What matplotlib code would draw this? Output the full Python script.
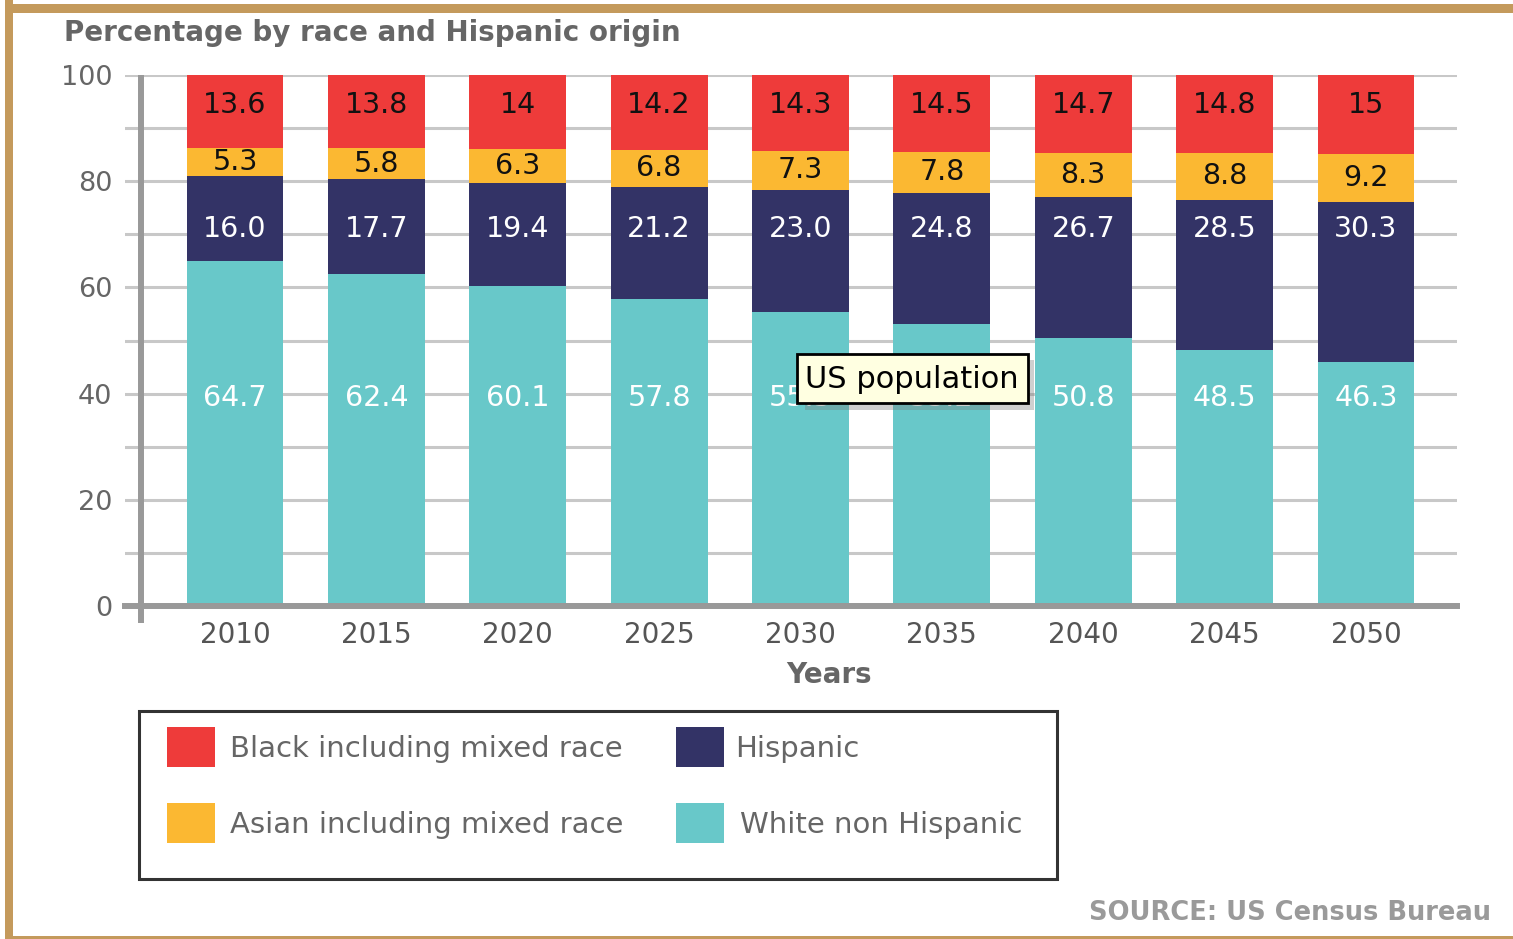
import numpy as np
import matplotlib
matplotlib.use('Agg')
import matplotlib.pyplot as plt
from matplotlib.patches import Rectangle
import matplotlib.transforms as mtransforms

# Данные: доля населения США по расе и происхождению (прогноз)
years = ['2010', '2015', '2020', '2025', '2030', '2035', '2040', '2045', '2050']
white = [64.7, 62.4, 60.1, 57.8, 55.5, 53.2, 50.8, 48.5, 46.3]
hispanic = [16.0, 17.7, 19.4, 21.2, 23.0, 24.8, 26.7, 28.5, 30.3]
asian = [5.3, 5.8, 6.3, 6.8, 7.3, 7.8, 8.3, 8.8, 9.2]
black = [13.6, 13.8, 14, 14.2, 14.3, 14.5, 14.7, 14.8, 15]
black_labels = ['13.6', '13.8', '14', '14.2', '14.3', '14.5', '14.7', '14.8', '15']

series_names = ['White non Hispanic', 'Hispanic',
                'Asian including mixed race', 'Black including mixed race']
colors = {'white': '#68C8C9', 'hispanic': '#333366',
          'asian': '#FBB832', 'black': '#EE3B3A'}

W, H = 1513, 939


def fx(px):
    return px / W


def fy(py):
    return 1 - py / H


fig = plt.figure(figsize=(W / 100, H / 100), dpi=100)
fig.patch.set_facecolor('white')

ax = fig.add_axes([fx(125), fy(606), fx(1457) - fx(125), fy(75) - fy(606)])

# столбцы нормируются к 100 %
white_a = np.array(white)
hisp_a = np.array(hispanic)
asian_a = np.array(asian)
black_a = np.array(black)
total = white_a + hisp_a + asian_a + black_a
w_n = white_a / total * 100
h_n = hisp_a / total * 100
a_n = asian_a / total * 100
b_n = black_a / total * 100

x = np.arange(len(years))
bw = 0.686
ax.bar(x, w_n, bw, color=colors['white'], zorder=3)
ax.bar(x, h_n, bw, bottom=w_n, color=colors['hispanic'], zorder=3)
ax.bar(x, a_n, bw, bottom=w_n + h_n, color=colors['asian'], zorder=3)
ax.bar(x, b_n, bw, bottom=w_n + h_n + a_n, color=colors['black'], zorder=3)

lab_fs = 20.5
for i in range(len(years)):
    ax.text(x[i], 39.1, f'{white[i]:.1f}', ha='center', va='center',
            color='white', fontsize=lab_fs, zorder=4)
    ax.text(x[i], 71.0, f'{hispanic[i]:.1f}', ha='center', va='center',
            color='white', fontsize=lab_fs, zorder=4)
    ax.text(x[i], w_n[i] + h_n[i] + a_n[i] / 2, f'{asian[i]}', ha='center',
            va='center', color='#111111', fontsize=lab_fs, zorder=4)
    ax.text(x[i], 94.4, black_labels[i], ha='center', va='center',
            color='#111111', fontsize=lab_fs, zorder=4)

ax.set_xlim(-110 / 141.375, 8 + (1457 - 1366) / 141.375)
ax.set_ylim(0, 100)
ax.set_yticks(range(0, 101, 20))
ax.set_yticks(range(10, 100, 20), minor=True)
ax.grid(which='both', axis='y', color='#C8C8C8', lw=2.2, zorder=1)
ax.tick_params(axis='y', which='both', length=0, pad=9, labelsize=19.5,
               labelcolor='#666666')
ax.set_xticks(x)
ax.set_xticklabels(years)
ax.tick_params(axis='x', length=0, pad=11, labelsize=20, labelcolor='#555555')

for s in ['top', 'right', 'left']:
    ax.spines[s].set_visible(False)
ax.spines['bottom'].set_color('#999999')
ax.spines['bottom'].set_linewidth(4.3)
ax.spines['bottom'].set_zorder(5)

# вертикальная ось
trans = mtransforms.blended_transform_factory(ax.transData, ax.transAxes)
ax_x = (141 - 235) / 141.375
ax.plot([ax_x, ax_x], [-0.032, 1.0], color='#999999', lw=4.3,
        transform=trans, clip_on=False, zorder=5, solid_capstyle='butt')

# подписи осей и заголовок
fig.text(fx(829), fy(675), 'Years', fontsize=20, fontweight='bold',
         color='#666666', ha='center', va='center')
fig.text(fx(64), fy(33), 'Percentage by race and Hispanic origin',
         fontsize=20, fontweight='bold', color='#666666', va='center')

# подсказка «US population»
shadow = Rectangle((fx(805), fy(410)), fx(229), fy(360) - fy(410),
                   transform=fig.transFigure, facecolor='#777777',
                   alpha=0.35, edgecolor='none', zorder=6)
fig.patches.append(shadow)
tip = Rectangle((fx(797), fy(403)), fx(231), fy(354) - fy(403),
                transform=fig.transFigure, facecolor='#FFFFE1',
                edgecolor='black', lw=2, zorder=7)
fig.patches.append(tip)
fig.text(fx(912), fy(380), 'US population', fontsize=22, color='black',
         ha='center', va='center', zorder=8)

# легенда
leg_box = Rectangle((fx(139), fy(879)), fx(1057) - fx(139), fy(711) - fy(879),
                    transform=fig.transFigure, facecolor='none',
                    edgecolor='#333333', lw=2.2)
fig.patches.append(leg_box)
leg_items = [
    (167, 727, colors['black'], 230, series_names[3]),
    (676, 727, colors['hispanic'], 735, series_names[1]),
    (167, 803, colors['asian'], 230, series_names[2]),
    (676, 803, colors['white'], 740, series_names[0]),
]
for sx, sy, c, tx, name in leg_items:
    sq = Rectangle((fx(sx), fy(sy + 40)), fx(48), fy(0) - fy(40),
                   transform=fig.transFigure, facecolor=c, edgecolor='none')
    fig.patches.append(sq)
    fig.text(fx(tx), fy(sy + 22), name, fontsize=21, color='#666666',
             va='center')

fig.text(fx(1491), fy(913), 'SOURCE: US Census Bureau', fontsize=18.5,
         fontweight='bold', color='#9A9A9A', ha='right', va='center')

# рамка
frame_c = '#C49A5C'
fig.patches.append(Rectangle((fx(5), fy(939)), fx(8), 1, transform=fig.transFigure,
                             facecolor=frame_c, edgecolor='none'))
fig.patches.append(Rectangle((fx(5), fy(13)), 1, fy(4) - fy(13),
                             transform=fig.transFigure,
                             facecolor=frame_c, edgecolor='none'))
fig.patches.append(Rectangle((fx(5), fy(939)), 1, fy(936) - fy(939),
                             transform=fig.transFigure,
                             facecolor=frame_c, edgecolor='none'))

fig.savefig('out.png', dpi=100)
